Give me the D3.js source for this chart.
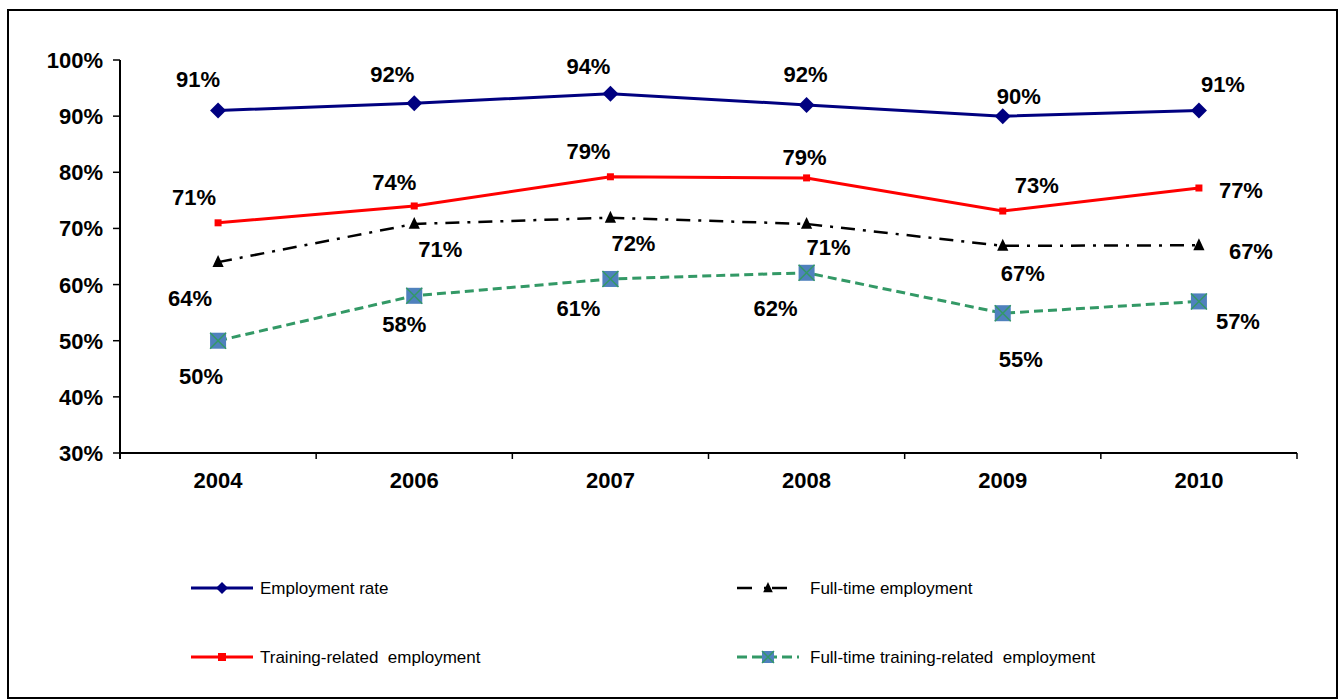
<!DOCTYPE html>
<html><head><meta charset="utf-8">
<script src="https://cdn.jsdelivr.net/npm/d3@7"></script>
<style>body{margin:0;background:#fff}svg{display:block}text{font-family:"Liberation Sans",Arial,sans-serif;white-space:pre}</style>
</head><body>
<svg id="c" width="1344" height="700"></svg>
<script>
const years = ["2004","2006","2007","2008","2009","2010"];
const employmentRate = [91, 92.3, 94, 92, 90, 91];
const trainingRelated = [71, 74, 79.2, 79, 73.1, 77.2];
const fullTime = [64, 70.8, 71.9, 70.8, 66.9, 67];
const fullTimeTraining = [50, 58, 61, 62.1, 54.9, 57];
const yTicks = [30, 40, 50, 60, 70, 80, 90, 100];
const seriesNames = ["Employment rate","Training-related  employment","Full-time employment","Full-time training-related  employment"];

// label offsets (dx, dy) relative to each point, per series
const labelOffsets = [
  [[-20,-32],[-22,-29],[-22,-28],[-1,-31],[16,-20],[24,-27]],
  [[-24,-26],[-20,-24],[-22,-26],[-2,-21],[34,-26],[42,2]],
  [[-28,36],[26,25],[23,25],[22,23],[20,27],[52,6]],
  [[-17,35],[-10,28],[-32,29],[-31,35],[18,46],[39,20]]
];

const svg = d3.select("#c");
svg.append("rect").attr("x",8).attr("y",10).attr("width",1329).attr("height",688)
  .attr("fill","none").attr("stroke","#000").attr("stroke-width",2);

const x = d3.scaleBand().domain(years).range([120,1297]);
const y = d3.scaleLinear().domain([30,100]).range([453,60]);
const cx = d => x(d) + x.bandwidth()/2;

// axes
const gx = svg.append("g").attr("transform","translate(0,453)");
gx.append("line").attr("x1",120).attr("x2",1297).attr("stroke","#000").attr("stroke-width",2);
const edges = d3.range(years.length+1).map(i => 120 + i*x.bandwidth());
gx.selectAll("line.t").data(edges).join("line").attr("class","t")
  .attr("x1",d=>d).attr("x2",d=>d).attr("y1",0).attr("y2",6).attr("stroke","#000").attr("stroke-width",1.5);
gx.selectAll("text").data(years).join("text")
  .attr("x",d=>cx(d)).attr("y",35).attr("text-anchor","middle")
  .attr("font-size",22).attr("font-weight","bold").text(d=>d);

const gy = svg.append("g");
gy.append("line").attr("x1",120).attr("x2",120).attr("y1",60).attr("y2",459).attr("stroke","#000").attr("stroke-width",2);
gy.selectAll("line.t").data(yTicks).join("line").attr("class","t")
  .attr("x1",113).attr("x2",120).attr("y1",d=>y(d)).attr("y2",d=>y(d)).attr("stroke","#000").attr("stroke-width",1.5);
gy.selectAll("text").data(yTicks).join("text")
  .attr("x",103).attr("y",d=>y(d)+8).attr("text-anchor","end")
  .attr("font-size",22).attr("font-weight","bold").text(d=>d+"%");

const series = [
  {vals: employmentRate, color:"#000080", width:3, dash:null, marker:"diamond"},
  {vals: trainingRelated, color:"#ff0000", width:3, dash:null, marker:"redsq"},
  {vals: fullTime, color:"#000000", width:2.5, dash:"14,8,3,8", marker:"tri"},
  {vals: fullTimeTraining, color:"#339966", width:3, dash:"9,5", marker:"sqx"}
];

function drawMarker(g, type, px, py, legend){
  if(type==="diamond"){
    const r = legend ? 6 : 8;
    g.append("path").attr("d",`M${px},${py-r}L${px+r},${py}L${px},${py+r}L${px-r},${py}Z`).attr("fill","#000080");
  } else if(type==="redsq"){
    const h = legend ? 4 : 3.5;
    g.append("rect").attr("x",px-h).attr("y",py-h).attr("width",2*h).attr("height",2*h).attr("fill","#ff0000");
  } else if(type==="tri"){
    const r = legend ? 6 : 7;
    g.append("path").attr("d",`M${px},${py-r}L${px+r*0.8},${py+r*0.7}L${px-r*0.8},${py+r*0.7}Z`).attr("fill","#000");
  } else if(type==="sqx"){
    const h = legend ? 6 : 8;
    g.append("rect").attr("x",px-h).attr("y",py-h).attr("width",2*h).attr("height",2*h).attr("fill","#4f81bd");
    g.append("path").attr("d",`M${px-h},${py-h}L${px+h},${py+h}M${px+h},${py-h}L${px-h},${py+h}`).attr("stroke","#339966").attr("stroke-width",1.5);
  }
}

const line = d3.line().x((d,i)=>cx(years[i])).y(d=>y(d));
series.forEach((s,si)=>{
  const g = svg.append("g");
  g.append("path").attr("d",line(s.vals)).attr("fill","none").attr("stroke",s.color)
    .attr("stroke-width",s.width).attr("stroke-dasharray",s.dash);
  s.vals.forEach((v,i)=>drawMarker(g, s.marker, cx(years[i]), y(v), false));
  s.vals.forEach((v,i)=>{
    const o = labelOffsets[si][i];
    g.append("text").attr("x",cx(years[i])+o[0]).attr("y",y(v)+o[1]+8)
      .attr("text-anchor","middle").attr("font-size",22).attr("font-weight","bold")
      .text(Math.round(v)+"%");
  });
});

// legend
const legendPos = [[191,588],[191,657],[737,588],[737,657]];
[0,1,2,3].forEach(si=>{
  const s = series[si];
  const [lx,ly] = legendPos[si];
  const g = svg.append("g");
  g.append("line").attr("x1",lx).attr("x2",lx+62).attr("y1",ly).attr("y2",ly)
    .attr("stroke",s.color).attr("stroke-width",s.width)
    .attr("stroke-dasharray", si===2 ? "15,12,3,5" : (si===3 ? "10,5" : null));
  drawMarker(g, s.marker, lx+31, ly, true);
  g.append("text").attr("x", si<2 ? lx+69 : lx+73).attr("y",ly+6).attr("font-size",17).text(seriesNames[si]);
});
</script>
</body></html>
